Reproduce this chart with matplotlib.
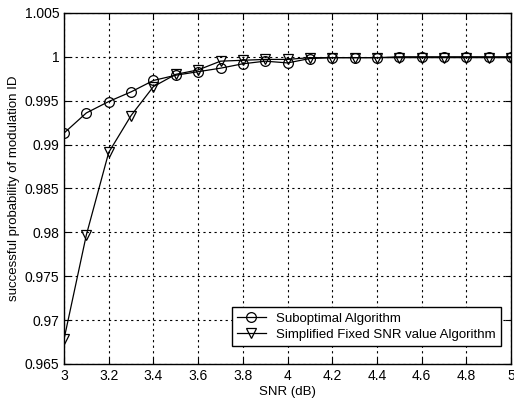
import numpy as np
import matplotlib.pyplot as plt

plt.rcParams['font.family'] = ['Liberation Sans', 'DejaVu Sans']

snr = [3.0, 3.1, 3.2, 3.3, 3.4, 3.5, 3.6, 3.7, 3.8, 3.9, 4.0,
       4.1, 4.2, 4.3, 4.4, 4.5, 4.6, 4.7, 4.8, 4.9, 5.0]
suboptimal = [0.9913, 0.9936, 0.9949, 0.9960, 0.9973, 0.9979, 0.9983, 0.9987, 0.9992, 0.9995, 0.9993,
              0.9998, 0.9999, 0.9999, 0.9999, 1.0, 1.0, 1.0, 1.0, 1.0, 1.0]
simplified = [0.9678, 0.9797, 0.9891, 0.9933, 0.9966, 0.9980, 0.9985, 0.9995, 0.9996, 0.9997, 0.9997,
              0.9999, 0.9999, 0.9999, 0.9999, 0.9999, 0.9999, 0.9999, 0.9999, 0.9999, 0.9999]

fig = plt.figure(figsize=(5.14, 4.03), dpi=100)
ax = fig.add_axes([0.1245, 0.097, 0.870, 0.871])

ax.plot(snr, suboptimal, 'k-', marker='o', mfc='none', ms=7, lw=0.9, mew=0.9,
        label='Suboptimal Algorithm')
ax.plot(snr, simplified, 'k-', marker='v', mfc='none', ms=7, lw=0.9, mew=0.9,
        label='Simplified Fixed SNR value Algorithm')

ax.set_xlim(3, 5)
ax.set_ylim(0.965, 1.005)
ax.set_xticks(np.arange(3, 5.01, 0.2))
ax.set_xticklabels(['3', '3.2', '3.4', '3.6', '3.8', '4', '4.2', '4.4', '4.6', '4.8', '5'])
ax.set_yticks(np.arange(0.965, 1.0051, 0.005))
ax.set_yticklabels(['0.965', '0.97', '0.975', '0.98', '0.985', '0.99', '0.995', '1', '1.005'])
ax.tick_params(direction='in', labelsize=10, length=4, top=True, right=True)
ax.grid(True, color='k', linestyle=(0, (2, 3)), linewidth=0.8)
for s in ax.spines.values():
    s.set_linewidth(1.0)

ax.set_xlabel('SNR (dB)', fontsize=9.5, labelpad=2)
ax.set_ylabel('successful probability of modulation ID', fontsize=9.5, labelpad=3)

leg = ax.legend(loc='lower right', bbox_to_anchor=(0.978, 0.051), fontsize=9.5,
                frameon=True, fancybox=False, edgecolor='k', borderaxespad=0,
                handlelength=2.2, borderpad=0.4, labelspacing=0.3)
leg.get_frame().set_linewidth(1.0)
leg.get_frame().set_alpha(1)

fig.savefig('out.png', dpi=100)
